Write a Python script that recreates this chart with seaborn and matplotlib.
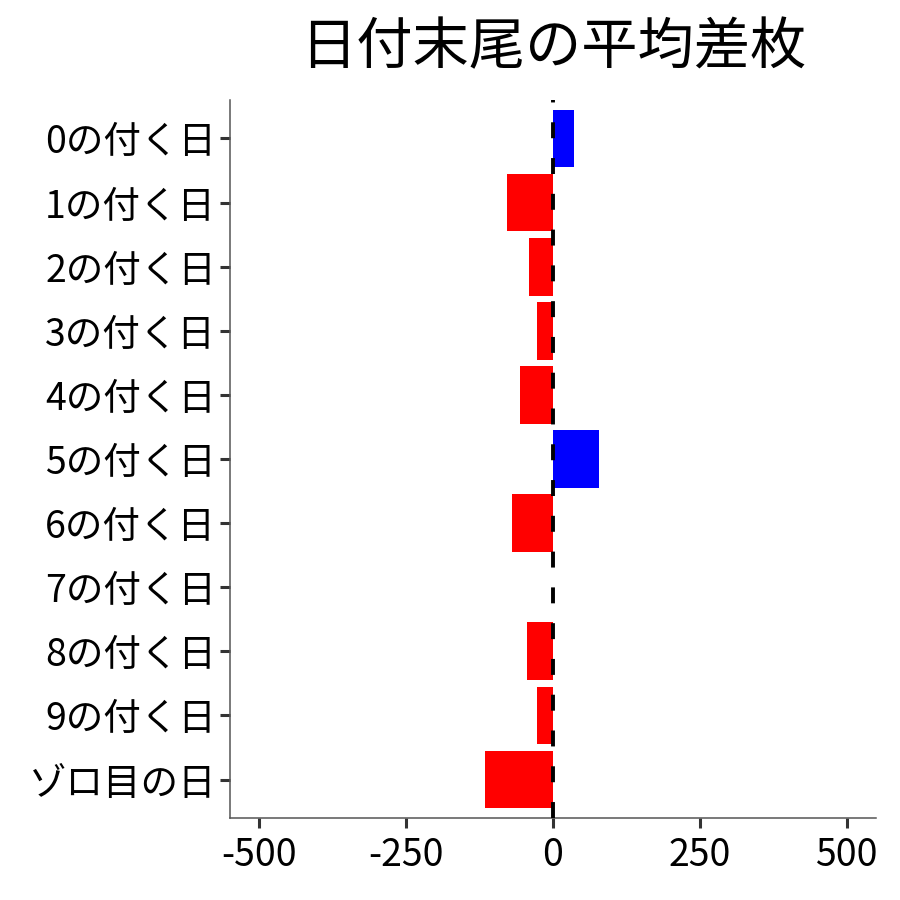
import matplotlib
matplotlib.use("Agg")
import matplotlib.pyplot as plt
import seaborn as sns
import pandas as pd

categories = ["0の付く日", "1の付く日", "2の付く日", "3の付く日", "4の付く日",
              "5の付く日", "6の付く日", "7の付く日", "8の付く日", "9の付く日", "ゾロ目の日"]
values = [35, -79, -41, -28, -57, 79, -69, 0, -45, -28, -115]
x_ticks = [-500, -250, 0, 250, 500]
x_tick_labels = ["-500", "-250", "0", "250", "500"]
title = "日付末尾の平均差枚"

df = pd.DataFrame({"cat": categories, "val": values})
df["sign"] = ["pos" if v > 0 else "neg" for v in values]

sns.set_theme(style="white")
plt.rcParams['font.family'] = ['Noto Sans CJK JP', 'DejaVu Sans']

fig = plt.figure(figsize=(9, 9), dpi=100)
ax = fig.add_axes([230/900, 1-818/900, (876-230)/900, (818-100)/900])

sns.barplot(data=df, y="cat", x="val", hue="sign", order=categories,
            palette={"pos": "#0000FF", "neg": "#FF0000"}, orient="h",
            width=0.9, dodge=False, legend=False, saturation=1, ax=ax,
            linewidth=0, errorbar=None)

ax.axvline(0, color="black", lw=2.8, ls=(0, (4.1, 5.1)), zorder=5)

ax.set_xlim(-550, 550)
ax.set_ylim(len(categories) - 1 + 0.6, -0.6)
ax.set_xticks(x_ticks)
ax.set_xticklabels(x_tick_labels)
ax.set_xlabel("")
ax.set_ylabel("")
ax.tick_params(axis="both", which="major", length=7, width=2.2, color="#333333",
               labelsize=27, labelcolor="black", left=True, bottom=True)
ax.tick_params(axis="y", pad=3)
ax.tick_params(axis="x", pad=6)
for s in ["top", "right"]:
    ax.spines[s].set_visible(False)
for s in ["left", "bottom"]:
    ax.spines[s].set_color("#555555")
    ax.spines[s].set_linewidth(1.1)

ax.set_title(title, fontsize=40.5, color="black", pad=26)

fig.savefig("out.png", dpi=100, facecolor="white")
